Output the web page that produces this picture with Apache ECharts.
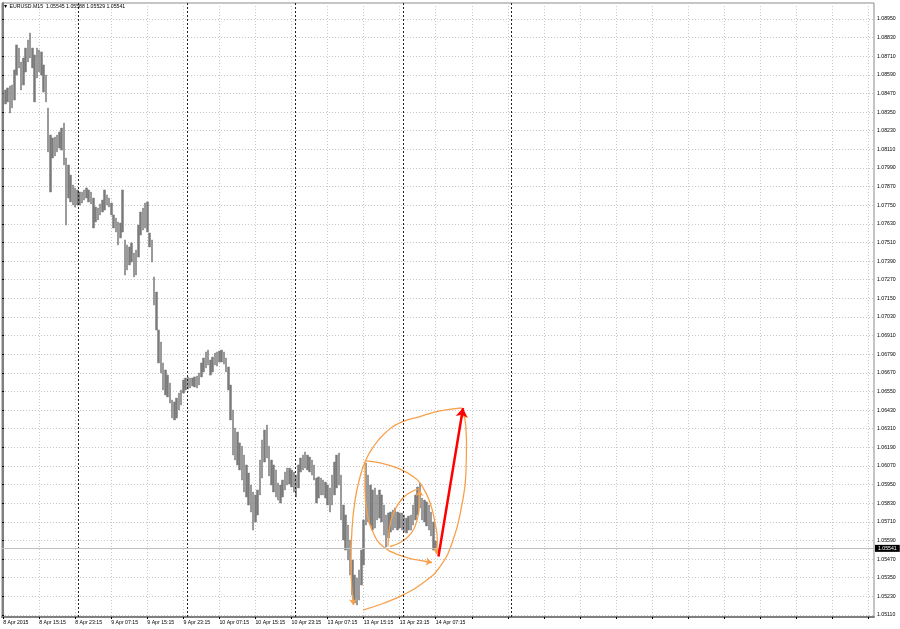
<!DOCTYPE html>
<html><head><meta charset="utf-8">
<script src="https://cdn.jsdelivr.net/npm/echarts@6/dist/echarts.min.js"></script>
<style>html,body{margin:0;padding:0;background:#fff}#chart{width:900px;height:629px}</style>
</head><body><div id="chart"></div>
<script>
const symbolName = 'EURUSD.M15';
const lastBar = [1.05545, 1.05588, 1.05529, 1.05541];
const timeLabels = ['8 Apr 2015','8 Apr 15:15','8 Apr 23:15','9 Apr 07:15','9 Apr 15:15','9 Apr 23:15','10 Apr 07:15','10 Apr 15:15','10 Apr 23:15','13 Apr 07:15','13 Apr 15:15','13 Apr 23:15','14 Apr 07:15'];
const labelStep = 16;
const slotCount = 387;

const high = [
1.08480,1.08493,1.08506,1.08519,1.08525,1.08622,1.08783,1.08763,1.08673,1.08699,
1.08763,1.08815,1.08860,1.08763,1.08718,1.08763,1.08750,1.08738,1.08654,1.08589,
1.08377,1.08203,1.08184,1.08190,1.08203,1.08222,1.08248,1.08280,1.08055,1.08010,
1.07945,1.07881,1.07862,1.07849,1.07836,1.07836,1.07849,1.07862,1.07849,1.07836,
1.07797,1.07739,1.07733,1.07759,1.07784,1.07849,1.07817,1.07797,1.07765,1.07688,
1.07668,1.07643,1.07636,1.07849,1.07527,1.07495,1.07482,1.07508,1.07443,1.07462,
1.07623,1.07707,1.07733,1.07765,1.07772,1.07572,1.07527,1.07289,1.07192,1.06947,
1.06870,1.06735,1.06690,1.06657,1.06606,1.06496,1.06484,1.06509,1.06541,1.06561,
1.06625,1.06638,1.06645,1.06638,1.06638,1.06645,1.06651,1.06670,1.06735,1.06767,
1.06806,1.06818,1.06754,1.06773,1.06799,1.06806,1.06812,1.06818,1.06806,1.06767,
1.06709,1.06593,1.06432,1.06316,1.06290,1.06220,1.06199,1.06142,1.06078,1.06026,
1.05949,1.05904,1.05885,1.05917,1.06110,1.06239,1.06303,1.06335,1.06199,1.06110,
1.06078,1.06046,1.05962,1.05949,1.05981,1.06033,1.06058,1.06058,1.06046,1.06033,
1.06013,1.06078,1.06123,1.06142,1.06162,1.06142,1.06129,1.06110,1.06078,1.05994,
1.06001,1.05994,1.05981,1.05968,1.05949,1.05930,1.06013,1.06097,1.06142,1.06155,
1.06013,1.05820,1.05756,1.05691,1.05595,1.05466,1.05369,1.05350,1.05402,1.05530,
1.05724,1.06091,1.06013,1.05949,1.05917,1.05930,1.05885,1.05917,1.05885,1.05820,
1.05756,1.05769,1.05775,1.05788,1.05801,1.05775,1.05769,1.05769,1.05756,1.05736,
1.05749,1.05756,1.05820,1.05885,1.05936,1.05962,1.05865,1.05852,1.05840,1.05820,
1.05775,1.05711,1.05588
];
const low = [
1.08364,1.08403,1.08416,1.08345,1.08377,1.08428,1.08589,1.08635,1.08493,1.08525,
1.08609,1.08673,1.08699,1.08635,1.08416,1.08570,1.08609,1.08589,1.08480,1.08416,
1.08094,1.07836,1.08055,1.08068,1.08094,1.08119,1.08106,1.08010,1.07623,1.07797,
1.07772,1.07752,1.07739,1.07752,1.07752,1.07765,1.07784,1.07797,1.07772,1.07759,
1.07604,1.07643,1.07656,1.07688,1.07707,1.07720,1.07752,1.07739,1.07688,1.07604,
1.07578,1.07495,1.07540,1.07578,1.07301,1.07334,1.07366,1.07385,1.07289,1.07301,
1.07417,1.07559,1.07591,1.07604,1.07578,1.07482,1.07385,1.07108,1.06947,1.06735,
1.06670,1.06561,1.06529,1.06516,1.06477,1.06381,1.06368,1.06381,1.06432,1.06464,
1.06541,1.06561,1.06567,1.06574,1.06587,1.06580,1.06574,1.06593,1.06645,1.06677,
1.06703,1.06722,1.06657,1.06677,1.06722,1.06715,1.06741,1.06741,1.06728,1.06677,
1.06561,1.06368,1.06142,1.06110,1.06078,1.06046,1.05981,1.05904,1.05872,1.05820,
1.05775,1.05659,1.05711,1.05756,1.05885,1.05994,1.06097,1.06123,1.06007,1.05949,
1.05904,1.05872,1.05852,1.05833,1.05872,1.05917,1.05949,1.05955,1.05936,1.05904,
1.05872,1.05930,1.06033,1.06046,1.06058,1.06046,1.06033,1.06013,1.05981,1.05833,
1.05865,1.05885,1.05885,1.05865,1.05820,1.05775,1.05820,1.05885,1.05930,1.05949,
1.05724,1.05595,1.05530,1.05466,1.05369,1.05241,1.05189,1.05176,1.05208,1.05305,
1.05434,1.05691,1.05711,1.05691,1.05659,1.05672,1.05724,1.05736,1.05711,1.05627,
1.05550,1.05608,1.05646,1.05659,1.05672,1.05659,1.05672,1.05659,1.05646,1.05640,
1.05659,1.05659,1.05691,1.05724,1.05756,1.05801,1.05724,1.05711,1.05685,1.05659,
1.05621,1.05530,1.05529
];

const daySeparators = [33.5, 81.5, 129.5, 177.5, 225.5];
const priceTickBase = 1.05110;
const priceTickStep = 0.0012;
const priceTop = 1.09053;
const priceBottom = 1.05099;

// spiral annotation arcs: [bar index, price]
const arcA = [[159.7,1.05144],[168.6,1.05186],[177.5,1.05241],[186.3,1.05318],[193.9,1.05424],[199.7,1.05595],[203.4,1.05807],[205.4,1.06026],[205.65,1.06239],[204.5,1.06419]];
const arcB = [[203.4,1.06445],[193.9,1.06426],[185.0,1.06390],[177.0,1.06355],[169.5,1.06284],[163.7,1.06181],[160.6,1.06097],[158.4,1.06001],[156.2,1.05852],[154.8,1.05659],[154.4,1.05447],[154.8,1.05273],[155.5,1.05176]];
const arcC = [[161.0,1.06104],[167.3,1.06091],[174.8,1.06059],[181.9,1.06004],[185.9,1.05943],[189.5,1.05833],[191.7,1.05704],[192.7,1.05595],[192.3,1.05505]];
const arcD = [[160.6,1.06091],[160.6,1.05917],[161.5,1.05769],[163.7,1.05659],[168.6,1.05553],[177.5,1.05489],[185.0,1.05463],[190.3,1.05450]];
const arcE = [[170.8,1.05553],[171.5,1.05672],[173.9,1.05788],[177.0,1.05859],[181.0,1.05904],[184.8,1.05926]];
const arcF = [[171.7,1.05553],[177.0,1.05585],[181.2,1.05640],[183.7,1.05724],[184.8,1.05833],[184.8,1.05917]];
const redArrow = [[193.2,1.05489],[204.1,1.06445]];

const FONT = 'Liberation Sans, Arial, sans-serif';
const ORANGE = '#F7A04B';
const BAR = '#7a7a7a';
const GRIDC = '#c8c8c8';

const categories = [];
for (let i = 0; i < slotCount; i++) categories.push(String(i));
const candles = high.map((h, i) => [low[i], h, low[i], h]);

function arcSeries(pts) {
  return { type: 'line', xAxisIndex: 1, yAxisIndex: 0, data: pts, smooth: 0.5,
    showSymbol: false, symbol: 'none', silent: true, z: 4,
    lineStyle: { color: ORANGE, width: 1.3 } };
}
function headOf(pts) {
  const a = pts[pts.length - 2], b = pts[pts.length - 1];
  const s = [b[0] + (a[0] - b[0]) * 0.2, b[1] + (a[1] - b[1]) * 0.2];
  return { coords: [s, b] };
}

const chart = echarts.init(document.getElementById('chart'), null, { renderer: 'canvas' });
chart.setOption({
  animation: false,
  backgroundColor: '#ffffff',
  title: {
    text: '\u25BC ' + symbolName + '  ' + lastBar.map(v => v.toFixed(5)).join(' '),
    left: 3, top: 4, padding: 0,
    textStyle: { fontSize: 5.2, fontWeight: 'normal', color: '#000', fontFamily: FONT }
  },
  grid: [
    { left: 2, right: 26, top: 3, bottom: 12, show: true, borderColor: '#8a8a8a', borderWidth: 1 },
    { left: 2, right: 26, top: 3, bottom: 14 }
  ],
  xAxis: [
    { type: 'category', gridIndex: 0, data: categories, boundaryGap: true,
      axisLine: { show: true, lineStyle: { color: '#808080', width: 2 } },
      axisTick: { show: true, interval: labelStep - 1, alignWithLabel: true, length: 2, lineStyle: { color: '#000' } },
      axisLabel: { interval: labelStep - 1, align: 'left', fontSize: 5.2, color: '#000', margin: 3, fontFamily: FONT,
        formatter: (v, idx) => (idx % labelStep === 0 && timeLabels[idx / labelStep]) ? timeLabels[idx / labelStep] : '' },
      splitLine: { show: true, interval: labelStep - 1, alignWithLabel: true, lineStyle: { color: GRIDC, type: [1, 2], width: 1 } } },
    { type: 'value', gridIndex: 0, min: -0.5, max: slotCount - 0.5, show: false },
    { type: 'value', gridIndex: 1, min: 0, max: 1, show: false }
  ],
  yAxis: [
    { type: 'value', gridIndex: 0, position: 'right', min: priceBottom, max: priceTop,
      axisLine: { show: true, lineStyle: { color: '#808080', width: 2 } },
      axisTick: { show: false }, axisLabel: { show: false }, splitLine: { show: false } },
    { type: 'value', gridIndex: 1, position: 'right', min: 0, max: +(priceTop - priceTickBase).toFixed(5), interval: priceTickStep,
      axisLine: { show: false },
      axisTick: { show: true, length: 2, lineStyle: { color: '#000' } },
      axisLabel: { fontSize: 5.2, color: '#000', margin: 3, fontFamily: FONT, showMaxLabel: false, showMinLabel: true,
        formatter: v => (priceTickBase + v).toFixed(5) },
      splitLine: { show: true, lineStyle: { color: GRIDC, type: [1, 2], width: 1 } } }
  ],
  series: [
    { type: 'line', xAxisIndex: 1, yAxisIndex: 0, data: [], silent: true, z: 1,
      markLine: { silent: true, symbol: ['none', 'none'], label: { show: false }, precision: 5,
        lineStyle: { color: '#222', type: [2, 2], width: 1 },
        data: daySeparators.map(v => ({ xAxis: v })) } },
    { type: 'line', xAxisIndex: 1, yAxisIndex: 0, data: [], silent: true, z: 2,
      markLine: { silent: true, symbol: ['none', 'none'], precision: 5,
        lineStyle: { color: '#c0c0c0', type: 'solid', width: 1 },
        label: { show: true, position: 'end', distance: 1, formatter: lastBar[3].toFixed(5),
          color: '#fff', backgroundColor: '#000', fontSize: 5.2, fontFamily: FONT, padding: [1, 3, 1, 3] },
        data: [{ yAxis: lastBar[3] }] } },
    { type: 'candlestick', xAxisIndex: 0, yAxisIndex: 0, data: candles, barWidth: 2.0, z: 3,
      itemStyle: { color: BAR, color0: BAR, borderColor: BAR, borderColor0: BAR, borderWidth: 0.5 } },
    arcSeries(arcA), arcSeries(arcB), arcSeries(arcC), arcSeries(arcD), arcSeries(arcE), arcSeries(arcF),
    { type: 'lines', coordinateSystem: 'cartesian2d', xAxisIndex: 1, yAxisIndex: 0, z: 5, silent: true,
      symbol: ['none', 'arrow'], symbolSize: 6,
      lineStyle: { color: ORANGE, width: 1.3, curveness: 0, opacity: 1 },
      data: [headOf(arcA), headOf(arcB), headOf(arcC), headOf(arcD), headOf(arcF)] },
    { type: 'lines', coordinateSystem: 'cartesian2d', xAxisIndex: 1, yAxisIndex: 0, z: 6, silent: true,
      symbol: ['none', 'arrow'], symbolSize: 9,
      lineStyle: { color: '#ff0000', width: 2.5, curveness: 0, opacity: 1 },
      data: [{ coords: redArrow }] }
  ]
});
</script>
</body></html>
